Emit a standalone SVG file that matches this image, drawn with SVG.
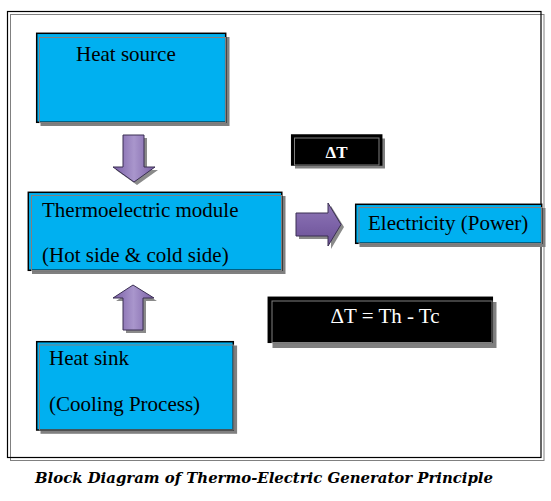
<svg xmlns="http://www.w3.org/2000/svg" width="551" height="501" viewBox="0 0 551 501">
<style>
.bg{fill:#ffffff}
.shadow{fill:#808080}
.box{fill:#00b0f0;stroke:#000;stroke-width:1.5}
.dbox{fill:#000;stroke:#000;stroke-width:1.5}
.inner{fill:none;stroke:#808080;stroke-width:1}
.t{font-family:"Liberation Serif","Times New Roman",serif;font-size:21px;fill:#000}
.w{font-family:"Liberation Serif","Times New Roman",serif;fill:#fff}
.arrow{stroke:#3a2f52;stroke-width:1;stroke-linejoin:miter}
.ashadow{fill:#8a8a8a}
.cap{font-family:"DejaVu Serif","Liberation Serif",serif;font-size:14px;font-weight:bold;font-style:italic;fill:#000}
</style>
<defs>
<linearGradient id="gh" x1="0" y1="0" x2="1" y2="0">
<stop offset="0" stop-color="#7a5fa6"/>
<stop offset="0.5" stop-color="#a996cc"/>
<stop offset="1" stop-color="#7a5fa6"/>
</linearGradient>
<linearGradient id="gv" x1="0" y1="0" x2="0" y2="1">
<stop offset="0" stop-color="#8f78b6"/>
<stop offset="0.5" stop-color="#7d63a8"/>
<stop offset="1" stop-color="#6a5094"/>
</linearGradient>
</defs>
<rect class="bg" x="0" y="0" width="551" height="501"/>
<g id="frame">
<rect x="10.5" y="14.5" width="533.5" height="446" fill="none" stroke="#808080" stroke-width="1"/>
<rect x="7.5" y="11.5" width="533.5" height="446" fill="none" stroke="#000" stroke-width="1.2"/>
</g>
<g id="connectors">
<g id="arrow-down">
<polygon class="ashadow" points="126,138 147,138 147,170 158,170 137,185 116,170 126,170"/>
<polygon class="arrow" fill="url(#gh)" points="123,135 144,135 144,167 155,167 134,182 113,167 123,167"/>
</g>
<g id="arrow-up">
<polygon class="ashadow" points="136,288 157,301 146,301 146,333 126,333 126,301 116,301"/>
<polygon class="arrow" fill="url(#gh)" points="133,285 154,298 143,298 143,330 123,330 123,298 113,298"/>
</g>
<g id="arrow-right">
<polygon class="ashadow" points="299,216 331,216 331,206 344,227 331,249 331,239 299,239"/>
<polygon class="arrow" fill="url(#gv)" points="296,213 328,213 328,203 341,224.5 328,246 328,236 296,236"/>
</g>
</g>
<g id="heat-source">
<rect class="shadow" x="40.5" y="37" width="189" height="89"/>
<rect class="box" x="36.7" y="33.3" width="189" height="89"/>
<rect class="inner" x="39.5" y="37.5" width="186" height="85"/>
<text class="t" x="76" y="61">Heat source</text>
</g>
<g id="te-module">
<rect class="shadow" x="32" y="196" width="253.5" height="78"/>
<rect class="box" x="28.3" y="192.3" width="253.5" height="78"/>
<rect class="inner" x="31.5" y="195.5" width="250" height="75"/>
<text class="t" x="42" y="217">Thermoelectric module</text>
<text class="t" x="42" y="262">(Hot side &amp; cold side)</text>
</g>
<g id="electricity">
<rect class="shadow" x="359.5" y="208" width="186" height="39"/>
<rect class="box" x="355.7" y="204.3" width="186" height="39"/>
<rect class="inner" x="359" y="207.5" width="182.5" height="36"/>
<text class="t" x="368" y="230">Electricity (Power)</text>
</g>
<g id="delta-t">
<rect class="shadow" x="295" y="138.5" width="90" height="30"/>
<rect class="dbox" x="291.7" y="135" width="90" height="30"/>
<rect class="inner" x="294.5" y="138" width="84.5" height="27"/>
<text class="w" x="336.5" y="158.3" font-size="17" font-weight="bold" text-anchor="middle">ΔT</text>
</g>
<g id="delta-formula">
<rect class="shadow" x="272.5" y="302" width="224" height="46"/>
<rect class="dbox" x="268.3" y="297.3" width="224" height="45"/>
<rect class="inner" x="272" y="301" width="220" height="41.5"/>
<text class="w" x="385" y="322.5" font-size="21" text-anchor="middle">ΔT = Th - Tc</text>
</g>
<g id="heat-sink">
<rect class="shadow" x="40.5" y="345.5" width="196.6" height="88.3"/>
<rect class="box" x="36.7" y="341.7" width="196.6" height="88.3"/>
<rect class="inner" x="39.5" y="345" width="193.8" height="85"/>
<text class="t" x="49" y="365">Heat sink</text>
<text class="t" x="49" y="410.5">(Cooling Process)</text>
</g>
<g id="caption">
<text class="cap" x="35" y="483.3" textLength="458" lengthAdjust="spacingAndGlyphs">Block Diagram of Thermo-Electric Generator Principle</text>
</g>
</svg>
